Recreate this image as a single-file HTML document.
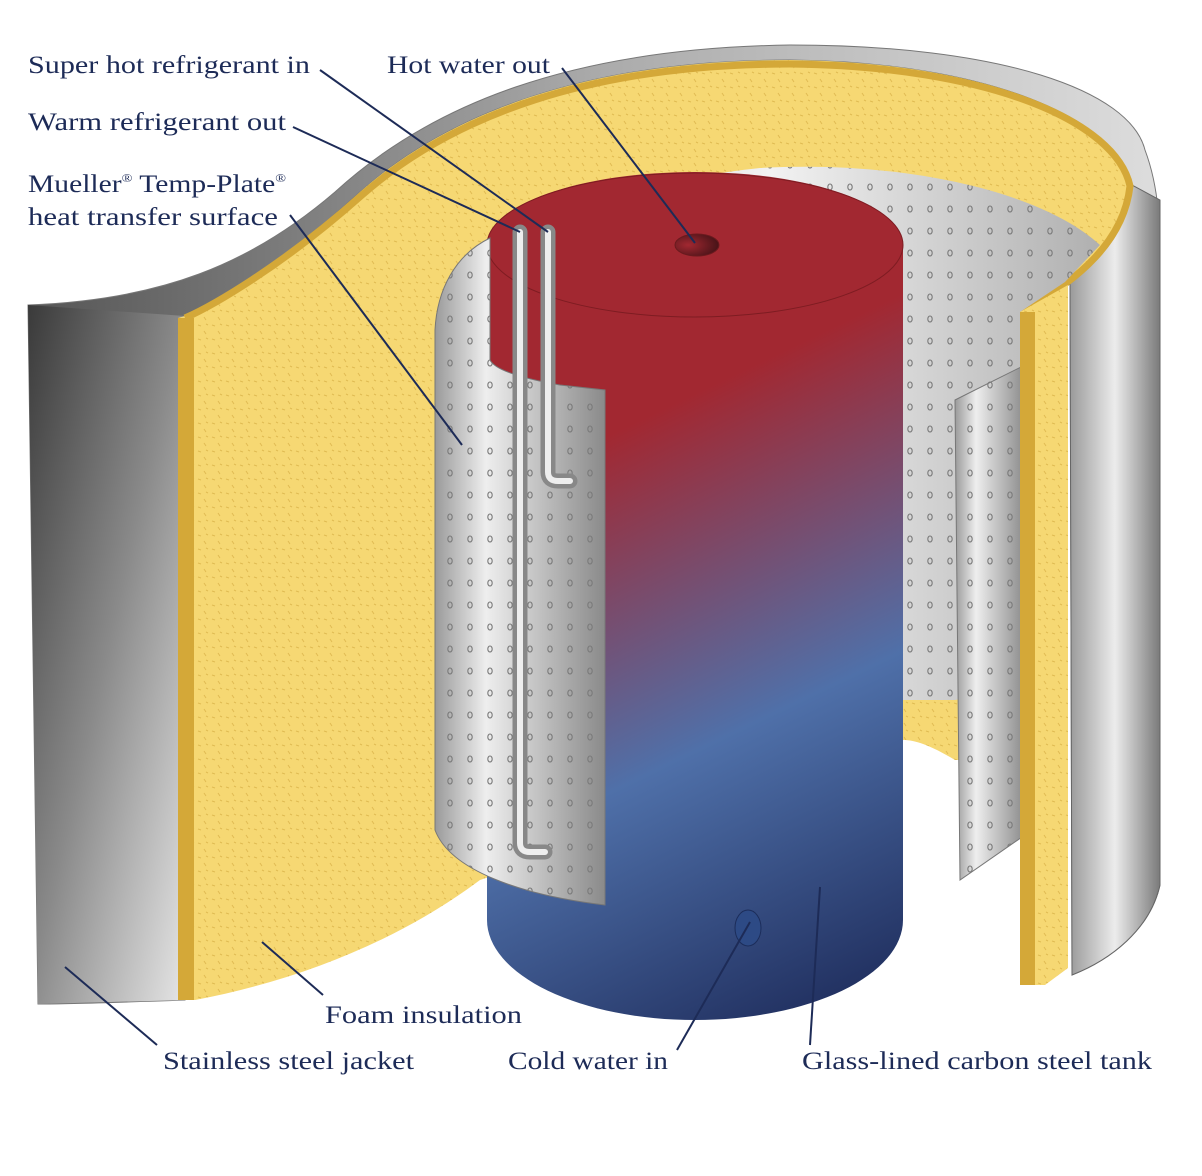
<!DOCTYPE html>
<html><head><meta charset="utf-8"><style>
html,body{margin:0;padding:0;background:#fff;}
svg{display:block;}
text{font-family:"Liberation Serif",serif;font-size:25px;fill:#1d2b57;}
</style></head><body>
<svg width="1202" height="1176" viewBox="0 0 1202 1176" xmlns="http://www.w3.org/2000/svg">
<defs>
<linearGradient id="jl" x1="0" y1="0" x2="1" y2="1">
<stop offset="0" stop-color="#3a3a3a"/><stop offset="0.5" stop-color="#8a8a8a"/><stop offset="1" stop-color="#e6e6e6"/></linearGradient>
<linearGradient id="jr" x1="0" y1="0" x2="1" y2="0">
<stop offset="0" stop-color="#9a9a9a"/><stop offset="0.5" stop-color="#ececec"/><stop offset="1" stop-color="#7a7a7a"/></linearGradient>
<linearGradient id="rim" x1="0" y1="0" x2="1" y2="0">
<stop offset="0" stop-color="#555"/><stop offset="0.5" stop-color="#aaa"/><stop offset="1" stop-color="#ddd"/></linearGradient>
<linearGradient id="tank" gradientUnits="userSpaceOnUse" x1="620" y1="430" x2="900" y2="1010">
<stop offset="0" stop-color="#a22831"/><stop offset="0.5" stop-color="#4f70a9"/><stop offset="1" stop-color="#1c2958"/></linearGradient>
<linearGradient id="plate" x1="0" y1="0" x2="1" y2="0">
<stop offset="0" stop-color="#9a9a9a"/><stop offset="0.3" stop-color="#eeeeee"/><stop offset="1" stop-color="#8a8a8a"/></linearGradient>
<linearGradient id="back" x1="0" y1="0" x2="1" y2="0">
<stop offset="0" stop-color="#bdbdbd"/><stop offset="0.5" stop-color="#f2f2f2"/><stop offset="1" stop-color="#b0b0b0"/></linearGradient>
<radialGradient id="hole" cx="0.3" cy="0.5" r="0.8"><stop offset="0" stop-color="#a22831"/><stop offset="1" stop-color="#3a1014"/></radialGradient>
<pattern id="dots" width="20" height="22" patternUnits="userSpaceOnUse">
<ellipse cx="10" cy="11" rx="2.2" ry="3" fill="none" stroke="#7a7a7a" stroke-width="1.1"/></pattern>
<pattern id="foam" width="14" height="14" patternUnits="userSpaceOnUse">
<rect width="14" height="14" fill="#f6d873"/><path d="M2,3 l3,1 M8,9 l2,3 M10,2 l2,1" stroke="#e0bb52" stroke-width="1"/></pattern>
</defs>

<!-- jacket -->
<path d="M28,305 C160,300 250,265 335,192 C430,105 570,48 790,45 C1000,45 1130,90 1145,150 C1160,190 1160,230 1160,270 L1160,885 C1150,930 1110,960 1072,975 L1070,280 C1100,262 1128,230 1132,185 C1118,120 990,62 790,60 C590,60 450,112 360,192 C280,265 210,305 185,316 L185,1000 C130,1002 70,1004 38,1004 Z" fill="url(#rim)" stroke="#777" stroke-width="1"/>
<path d="M28,305 L185,316 L185,1000 L38,1004 Z" fill="url(#jl)"/>
<path d="M1070,280 C1100,262 1128,230 1132,185 L1160,200 L1160,885 C1150,930 1110,960 1072,975 Z" fill="url(#jr)" stroke="#666" stroke-width="1"/>

<!-- foam main -->
<path d="M178,318 L185,316 C210,305 280,265 360,192 C450,112 590,60 790,60 C990,62 1118,120 1132,185 C1125,240 1080,280 1020,312 L1020,760 L955,760 C930,745 915,740 903,740 L480,880 C400,940 300,980 195,1000 L178,1000 Z" fill="url(#foam)"/>
<path d="M185,318 C210,307 280,268 362,195 C452,116 590,64 790,64 C990,66 1116,122 1130,186 C1124,240 1080,280 1020,312" fill="none" stroke="#d4a838" stroke-width="7"/>
<rect x="178" y="318" width="16" height="682" fill="#d4a838"/>

<!-- back plate -->
<path d="M440,330 C470,240 600,185 760,168 C900,160 1040,190 1100,245 L1065,282 L1020,312 L1020,690 L955,700 L903,700 L903,245 Z" fill="url(#back)"/>
<path d="M440,330 C470,240 600,185 760,168 C900,160 1040,190 1100,245 L1065,282 L1020,312 L1020,690 L955,700 L903,700 L903,245 Z" fill="url(#dots)"/>

<!-- right inner plate -->
<path d="M955,400 L1025,365 L1025,835 L960,880 Z" fill="url(#plate)" stroke="#777"/>
<path d="M955,400 L1025,365 L1025,835 L960,880 Z" fill="url(#dots)"/>

<!-- right foam strip -->
<path d="M1020,312 L1068,285 L1068,968 L1045,985 L1020,985 Z" fill="url(#foam)"/>
<rect x="1020" y="312" width="15" height="673" fill="#d4a838"/>

<!-- tank -->
<path d="M487,245 L487,920 A208,100 0 0 0 903,920 L903,245 A208,73 0 0 0 487,245 Z" fill="url(#tank)"/>
<ellipse cx="695" cy="245" rx="208" ry="72" fill="#a22831" stroke="#7e1c22" stroke-width="1"/>
<ellipse cx="697" cy="245" rx="22" ry="11" fill="url(#hole)" stroke="#6a1a1e"/>
<ellipse cx="748" cy="928" rx="13" ry="18" fill="#2d4a85" stroke="#1c2d5a"/>

<!-- left plate -->
<path d="M490,238 C455,255 437,290 435,330 L435,830 C450,870 520,895 605,905 L605,390 L560,385 C520,378 495,370 490,360 Z" fill="url(#plate)" stroke="#777"/>
<path d="M490,238 C455,255 437,290 435,330 L435,830 C450,870 520,895 605,905 L605,390 L560,385 C520,378 495,370 490,360 Z" fill="url(#dots)"/>

<!-- pipes -->
<path d="M520,232 L520,843 Q520,852 530,852 L545,852" fill="none" stroke="#888" stroke-width="15" stroke-linecap="round"/>
<path d="M520,232 L520,843 Q520,852 530,852 L545,852" fill="none" stroke="#eee" stroke-width="6" stroke-linecap="round"/>
<path d="M548,232 L548,472 Q548,481 558,481 L570,481" fill="none" stroke="#888" stroke-width="15" stroke-linecap="round"/>
<path d="M548,232 L548,472 Q548,481 558,481 L570,481" fill="none" stroke="#eee" stroke-width="6" stroke-linecap="round"/>

<!-- leaders -->
<g stroke="#1d2b57" stroke-width="2" fill="none">
<line x1="320" y1="70" x2="548" y2="232"/>
<line x1="562" y1="68" x2="695" y2="243"/>
<line x1="293" y1="127" x2="520" y2="232"/>
<line x1="290" y1="215" x2="462" y2="445"/>
<line x1="262" y1="942" x2="323" y2="995"/>
<line x1="65" y1="967" x2="157" y2="1045"/>
<line x1="677" y1="1050" x2="750" y2="922"/>
<line x1="810" y1="1045" x2="820" y2="887"/>
</g>

<!-- labels -->
<text x="28" y="73" textLength="282" lengthAdjust="spacingAndGlyphs">Super hot refrigerant in</text>
<text x="387" y="73" textLength="163" lengthAdjust="spacingAndGlyphs">Hot water out</text>
<text x="28" y="130" textLength="258" lengthAdjust="spacingAndGlyphs">Warm refrigerant out</text>
<text x="28" y="192" textLength="258" lengthAdjust="spacingAndGlyphs">Mueller<tspan font-size="12" dy="-10">®</tspan><tspan dy="10"> Temp-Plate</tspan><tspan font-size="12" dy="-10">®</tspan></text>
<text x="28" y="225" textLength="250" lengthAdjust="spacingAndGlyphs">heat transfer surface</text>
<text x="325" y="1023" textLength="197" lengthAdjust="spacingAndGlyphs">Foam insulation</text>
<text x="163" y="1069" textLength="251" lengthAdjust="spacingAndGlyphs">Stainless steel jacket</text>
<text x="508" y="1069" textLength="160" lengthAdjust="spacingAndGlyphs">Cold water in</text>
<text x="802" y="1069" textLength="350" lengthAdjust="spacingAndGlyphs">Glass-lined carbon steel tank</text>
</svg>
</body></html>
